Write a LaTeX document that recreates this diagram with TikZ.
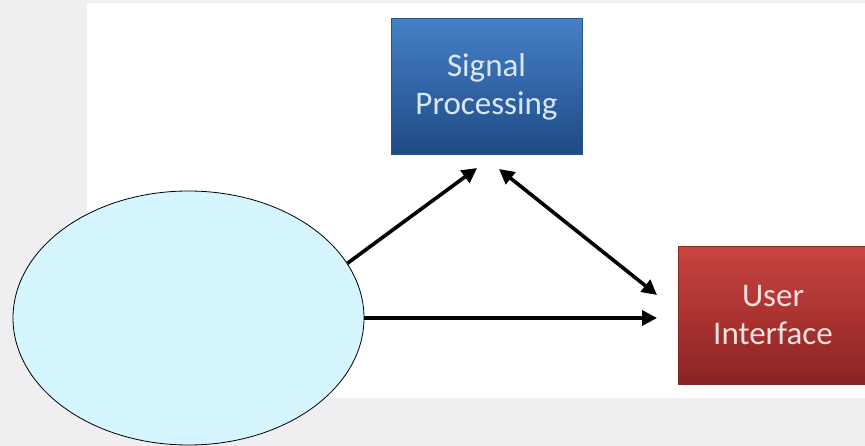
\documentclass[tikz,border=0pt]{standalone}
\usepackage{fontspec}
\setmainfont{Carlito}
\usetikzlibrary{shapes.geometric,arrows.meta}
\definecolor{bgray}{HTML}{EFEFF1}
\definecolor{ellfill}{HTML}{D5F6FF}
\definecolor{btop}{HTML}{4580C6}
\definecolor{bbot}{HTML}{1F4A86}
\definecolor{bline}{HTML}{2A5289}
\definecolor{rtop}{HTML}{C9443F}
\definecolor{rbot}{HTML}{8A2323}
\definecolor{rline}{HTML}{842828}
\definecolor{btext}{HTML}{D9E7F7}
\definecolor{rtext}{HTML}{F8E0E0}
\tikzset{
  box/.style={rectangle, draw, line width=1pt, inner sep=0pt, align=center,
    font=\fontsize{33}{38}\selectfont},
  bluebox/.style={box, draw=bline, top color=btop, bottom color=bbot, text=btext},
  redbox/.style={box, draw=rline, top color=rtop, bottom color=rbot, text=rtext},
  conn/.style={line width=3.6pt, -{Triangle[length=15pt,width=15pt]}},
  dconn/.style={line width=3.6pt, {Triangle[length=15pt,width=15pt]}-{Triangle[length=15pt,width=15pt]}}
}
\begin{document}
\begin{tikzpicture}[x=1pt,y=-1pt]
\clip (0,0) rectangle (865,446);
\fill[bgray] (0,0) rectangle (865,446);
\fill[white] (87,3) rectangle (865,398);
\node[bluebox, minimum width=191pt, minimum height=136pt] (SP) at (486.5,87) {Signal\\Processing};
\node[redbox, minimum width=190pt, minimum height=137pt] (UI) at (773,315.5) {User\\Interface};
\node[ellipse, draw=black, line width=0.8pt, fill=ellfill, minimum width=351pt, minimum height=254pt, inner sep=0pt] (E) at (188.5,318) {};
\coordinate (t1) at (477,168);
\coordinate (t2a) at (499,169);
\coordinate (t2b) at (657,295);
\coordinate (t3) at (657,318);
\draw[conn] (E.19) -- (t1);
\draw[dconn] (t2a) -- (t2b);
\draw[conn] (E.east) -- (t3);
\end{tikzpicture}
\end{document}
